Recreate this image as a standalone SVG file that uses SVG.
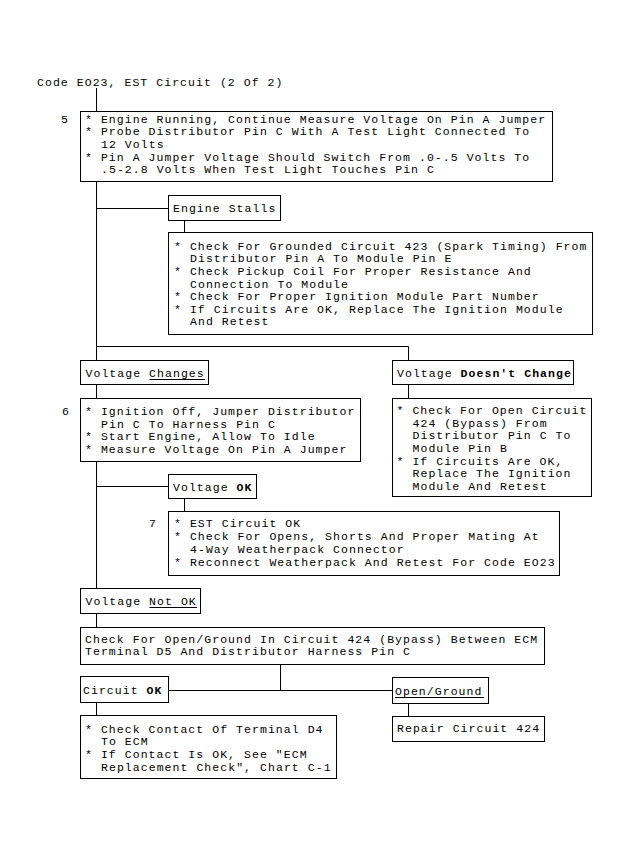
<svg xmlns="http://www.w3.org/2000/svg" width="631" height="855" viewBox="0 0 631 855">
<style>
text{font-family:"Liberation Mono","DejaVu Sans Mono",monospace;font-size:11.5px;letter-spacing:1.05px;fill:#000}
.b{font-weight:bold}
rect{fill:#fff;stroke:#000;stroke-width:1}
.c path{fill:none;stroke:#000;stroke-width:1}
.u{stroke:#000;stroke-width:1}
</style>
<rect x="0" y="0" width="631" height="855" style="stroke:none"/>
<text x="37" y="86">Code EO23, EST Circuit (2 Of 2)</text>
<g class="c" id="connectors">
<path d="M96.5 88V111.5M96.5 181.5V360.5M96.5 384.5V398.5M96.5 461.5V588.5M96.5 613.5V627.5M96.5 702.5V715.5"/>
<path d="M96.5 208.5H168.5M184.5 220.5V232.5"/>
<path d="M96.5 346.5H408.5V360.5M408.5 384.5V398.5"/>
<path d="M96.5 486.5H168.5M184.5 498.5V511.5"/>
<path d="M280.5 664.5V690.5M168.5 690.5H392.5M408.5 703.5V716.5"/>
</g>
<g id="step5">
<text x="61" y="122.5">5</text>
<rect x="80.5" y="111.5" width="472" height="70"/>
<text x="85" y="122.5">* Engine Running, Continue Measure Voltage On Pin A Jumper</text>
<text x="85" y="135">* Probe Distributor Pin C With A Test Light Connected To</text>
<text x="101" y="148">12 Volts</text>
<text x="85" y="160.5">* Pin A Jumper Voltage Should Switch From .0-.5 Volts To</text>
<text x="101" y="173">.5-2.8 Volts When Test Light Touches Pin C</text>
</g>
<g id="engine-stalls">
<rect x="168.5" y="195.5" width="112" height="25"/>
<text x="173" y="212">Engine Stalls</text>
</g>
<g id="stalls-checks">
<rect x="168.5" y="232.5" width="424" height="102"/>
<text x="174" y="249.5">* Check For Grounded Circuit 423 (Spark Timing) From</text>
<text x="190" y="262">Distributor Pin A To Module Pin E</text>
<text x="174" y="275">* Check Pickup Coil For Proper Resistance And</text>
<text x="190" y="287.5">Connection To Module</text>
<text x="174" y="300">* Check For Proper Ignition Module Part Number</text>
<text x="174" y="312.5">* If Circuits Are OK, Replace The Ignition Module</text>
<text x="190" y="325">And Retest</text>
</g>
<g id="voltage-changes">
<rect x="80.5" y="360.5" width="128" height="24"/>
<text x="85.5" y="377">Voltage Changes</text>
<line class="u" x1="149.5" y1="379.5" x2="205" y2="379.5"/>
</g>
<g id="voltage-doesnt-change">
<rect x="392.5" y="360.5" width="181" height="24"/>
<text x="397" y="377">Voltage <tspan class="b">Doesn't Change</tspan></text>
</g>
<g id="step6">
<text x="62" y="415">6</text>
<rect x="80.5" y="398.5" width="280" height="63"/>
<text x="85" y="415">* Ignition Off, Jumper Distributor</text>
<text x="101" y="427.5">Pin C To Harness Pin C</text>
<text x="85" y="440">* Start Engine, Allow To Idle</text>
<text x="85" y="452.5">* Measure Voltage On Pin A Jumper</text>
</g>
<g id="open-424-checks">
<rect x="392.5" y="398.5" width="199" height="98"/>
<text x="396.5" y="414">* Check For Open Circuit</text>
<text x="412.5" y="426.7">424 (Bypass) From</text>
<text x="412.5" y="439.3">Distributor Pin C To</text>
<text x="412.5" y="452">Module Pin B</text>
<text x="396.5" y="464.7">* If Circuits Are OK,</text>
<text x="412.5" y="477.3">Replace The Ignition</text>
<text x="412.5" y="490">Module And Retest</text>
</g>
<g id="voltage-ok">
<rect x="168.5" y="474.5" width="88" height="24"/>
<text x="173" y="490.5">Voltage <tspan class="b">OK</tspan></text>
</g>
<g id="step7">
<text x="149" y="527">7</text>
<rect x="168.5" y="511.5" width="391" height="64"/>
<text x="174" y="527">* EST Circuit OK</text>
<text x="174" y="540">* Check For Opens, Shorts And Proper Mating At</text>
<text x="190" y="552.5">4-Way Weatherpack Connector</text>
<text x="174" y="566">* Reconnect Weatherpack And Retest For Code EO23</text>
</g>
<g id="voltage-not-ok">
<rect x="80.5" y="588.5" width="120" height="25"/>
<text x="85.5" y="605">Voltage Not OK</text>
<line class="u" x1="149.5" y1="607.5" x2="197" y2="607.5"/>
</g>
<g id="check-424">
<rect x="80.5" y="627.5" width="464" height="37"/>
<text x="85" y="643">Check For Open/Ground In Circuit 424 (Bypass) Between ECM</text>
<text x="85" y="655">Terminal D5 And Distributor Harness Pin C</text>
</g>
<g id="circuit-ok">
<rect x="80.5" y="676.5" width="88" height="26"/>
<text x="83" y="694">Circuit <tspan class="b">OK</tspan></text>
</g>
<g id="open-ground">
<rect x="392.5" y="677.5" width="96" height="26"/>
<text x="395" y="695">Open/Ground</text>
<line class="u" x1="395" y1="697.5" x2="484" y2="697.5"/>
</g>
<g id="d4-checks">
<rect x="80.5" y="715.5" width="256" height="63"/>
<text x="85" y="733">* Check Contact Of Terminal D4</text>
<text x="101" y="745">To ECM</text>
<text x="85" y="758">* If Contact Is OK, See "ECM</text>
<text x="101" y="770.5">Replacement Check", Chart C-1</text>
</g>
<g id="repair-424">
<rect x="392.5" y="716.5" width="152" height="25"/>
<text x="397" y="732">Repair Circuit 424</text>
</g>
</svg>
